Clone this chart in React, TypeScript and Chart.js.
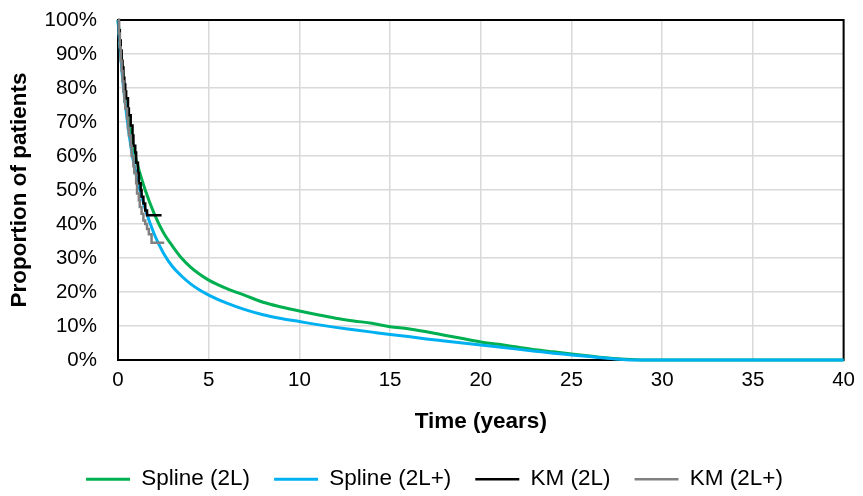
import React, { useEffect, useRef } from "react";
import { Chart, registerables } from "chart.js";

Chart.register(...registerables);

// Spline curves (time in years, proportion in %)
const splineTimes = [0, 0.25, 0.5, 0.75, 1, 1.5, 2, 2.5, 3, 3.5, 4, 4.5, 5, 6, 7, 8, 9, 10, 11, 12, 13, 14, 15, 16, 17, 18, 19, 20, 21, 22, 23, 24, 25, 26, 27, 28, 29, 30, 35, 40];
const spline2L = [100, 85, 74, 65.5, 59, 50, 43, 37.5, 33.5, 30, 27.3, 25.2, 23.5, 21, 19, 17, 15.6, 14.4, 13.3, 12.3, 11.5, 10.8, 9.8, 9.2, 8.3, 7.3, 6.3, 5.3, 4.6, 3.8, 3.0, 2.4, 1.8, 1.2, 0.6, 0.2, 0, 0, 0, 0];
const spline2Lplus = [100, 83, 71, 61.5, 54.5, 44.5, 37, 31.5, 27.5, 24.7, 22.4, 20.6, 19.1, 16.7, 14.8, 13.3, 12.2, 11.3, 10.4, 9.6, 8.9, 8.2, 7.5, 6.9, 6.2, 5.6, 5.0, 4.4, 3.8, 3.2, 2.6, 2.0, 1.5, 1.0, 0.5, 0.1, 0, 0, 0, 0];

// Kaplan-Meier step curves
const km2LTimes = [0, 0.05, 0.1, 0.15, 0.2, 0.25, 0.3, 0.35, 0.4, 0.45, 0.55, 0.6, 0.7, 0.8, 0.85, 0.95, 1.0, 1.1, 1.15, 1.25, 1.3, 1.4, 1.5, 1.6, 2.4];
const km2L = [100, 97, 94, 91, 88, 86, 83, 81, 79, 77, 74, 72, 69, 66, 63, 61, 58, 55, 52, 50, 48, 46, 44, 42.6, 42.6];
const km2LplusTimes = [0, 0.05, 0.1, 0.15, 0.2, 0.25, 0.3, 0.35, 0.4, 0.5, 0.55, 0.6, 0.7, 0.75, 0.85, 0.9, 1.0, 1.05, 1.15, 1.2, 1.3, 1.4, 1.5, 1.6, 1.7, 1.85, 2.55];
const km2Lplus = [100, 96, 92, 88, 85, 82, 79, 76, 74, 71, 68, 66, 63, 60, 57, 55, 52, 49, 47, 45, 43, 41, 40, 38.5, 37, 34.5, 34.5];

const seriesLabels = ["Spline (2L)", "Spline (2L+)", "KM (2L)", "KM (2L+)"];
const seriesColors = ["#00B050", "#00B0F0", "#000000", "#808080"];

const xTitle = "Time (years)";
const yTitle = "Proportion of patients";

const FONT = "'Liberation Sans', Arial, sans-serif";

const toPoints = (xs: number[], ys: number[]) => xs.map((x, i) => ({ x, y: ys[i] }));

const framePlugin = {
  id: "frame",
  afterLayout(chart: any) {
    const lg = chart.legend;
    if (lg) {
      lg.left += 11;
      lg.right += 11;
    }
  },
  beforeDatasetsDraw(chart: any) {
    const { ctx, chartArea } = chart;
    const { left, top, right, bottom } = chartArea;
    ctx.save();
    ctx.strokeStyle = "#000000";
    ctx.lineWidth = 2;
    ctx.strokeRect(left, top, right - left, bottom - top);
    ctx.restore();
  },
};

export default function App() {
  const ref = useRef<HTMLCanvasElement | null>(null);

  useEffect(() => {
    if (!ref.current) return;
    const chart = new Chart(ref.current, {
      type: "line",
      data: {
        datasets: [
          {
            label: seriesLabels[0],
            data: toPoints(splineTimes, spline2L),
            borderColor: seriesColors[0],
            backgroundColor: seriesColors[0],
            borderWidth: 3,
            pointRadius: 0,
            cubicInterpolationMode: "monotone",
            order: 4,
            clip: 4,
          },
          {
            label: seriesLabels[1],
            data: toPoints(splineTimes, spline2Lplus),
            borderColor: seriesColors[1],
            backgroundColor: seriesColors[1],
            borderWidth: 3,
            pointRadius: 0,
            cubicInterpolationMode: "monotone",
            order: 3,
            clip: 4,
          },
          {
            label: seriesLabels[2],
            data: toPoints(km2LTimes, km2L),
            borderColor: seriesColors[2],
            backgroundColor: seriesColors[2],
            borderWidth: 2.5,
            pointRadius: 0,
            stepped: true,
            order: 2,
            clip: 4,
          },
          {
            label: seriesLabels[3],
            data: toPoints(km2LplusTimes, km2Lplus),
            borderColor: seriesColors[3],
            backgroundColor: seriesColors[3],
            borderWidth: 2.5,
            pointRadius: 0,
            stepped: true,
            order: 1,
            clip: 4,
          },
        ],
      },
      options: {
        responsive: false,
        animation: false,
        devicePixelRatio: 1,
        layout: { padding: { top: 20, right: 16, left: 0, bottom: 0 } },
        scales: {
          x: {
            type: "linear",
            min: 0,
            max: 40,
            ticks: {
              stepSize: 5,
              padding: 8,
              color: "#000",
              font: { family: FONT, size: 20.5 },
            },
            grid: { color: "#d9d9d9", lineWidth: 1.5, drawTicks: false },
            border: { display: false },
            title: {
              display: true,
              text: xTitle,
              color: "#000",
              font: { family: FONT, size: 22.5, weight: "bold" },
              padding: { top: 0, bottom: 9 },
            },
            afterFit: (s: any) => {
              s.height = 84;
            },
          },
          y: {
            type: "linear",
            min: 0,
            max: 100,
            ticks: {
              stepSize: 10,
              padding: 0,
              color: "#000",
              font: { family: FONT, size: 20.5 },
              callback: (v: any) => v + "%",
            },
            grid: {
              color: "#d9d9d9",
              lineWidth: 1.5,
              drawTicks: true,
              tickLength: 21,
              tickColor: "rgba(0,0,0,0)",
            },
            border: { display: false },
            title: {
              display: true,
              text: yTitle,
              color: "#000",
              font: { family: FONT, size: 22.5, weight: "bold" },
              padding: { top: 6, bottom: 0 },
            },
            afterFit: (s: any) => {
              s.width = 118;
            },
          },
        },
        plugins: {
          legend: {
            position: "bottom",
            align: "center",
            maxHeight: 52,
            labels: {
              usePointStyle: true,
              pointStyle: "line",
              pointStyleWidth: 44,
              padding: 24,
              color: "#000",
              font: { family: FONT, size: 22.5 },
              sort: (a: any, b: any) => a.datasetIndex - b.datasetIndex,
            },
          },
          tooltip: { enabled: false },
        },
      },
      plugins: [framePlugin],
    } as any);
    return () => chart.destroy();
  }, []);

  return (
    <div style={{ position: "absolute", left: 0, top: 0, width: 863, height: 496, background: "#fff" }}>
      <canvas ref={ref} width={863} height={496} style={{ display: "block", width: 863, height: 496 }} />
    </div>
  );
}
